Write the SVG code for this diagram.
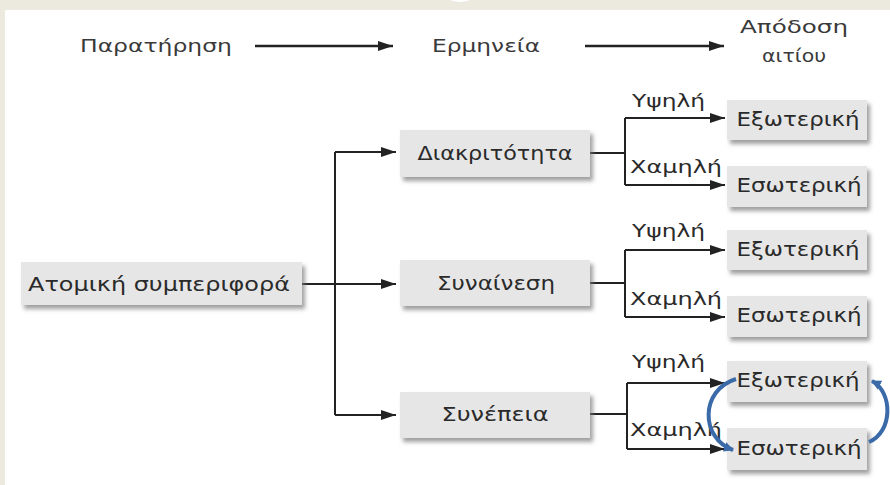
<svg xmlns="http://www.w3.org/2000/svg" width="890" height="485" viewBox="0 0 890 485">
<defs>
<marker id="ah" markerUnits="userSpaceOnUse" markerWidth="16" markerHeight="12" refX="15" refY="5" orient="auto">
<path d="M0,0 L15,5 L0,10 z" fill="#222"/>
</marker>
<marker id="bh" markerUnits="userSpaceOnUse" markerWidth="12" markerHeight="12" refX="9" refY="5" orient="auto">
<path d="M0,0 L10,5 L0,10 z" fill="#3a6ba8"/>
</marker>
<filter id="sh" x="-10%" y="-20%" width="130%" height="160%">
<feDropShadow dx="3" dy="4" stdDeviation="2" flood-color="#777" flood-opacity="0.7"/>
</filter>
</defs>
<style>
.box{fill:#e6e6e6;filter:url(#sh)}
.t{font-family:"DejaVu Sans","Liberation Sans",sans-serif;font-size:19px;fill:#2a2a2a;text-anchor:middle}
.h{font-family:"DejaVu Sans","Liberation Sans",sans-serif;font-size:18px;fill:#3a3a3a}
.l{font-family:"DejaVu Sans","Liberation Sans",sans-serif;font-size:18px;fill:#2a2a2a}
.c{stroke:#222;stroke-width:2;fill:none}
.hc{stroke:#222;stroke-width:2.6;fill:none}
.a{marker-end:url(#ah)}
.b{stroke:#3a6ba8;stroke-width:4;fill:none;marker-end:url(#bh)}
</style>
<rect x="0" y="0" width="890" height="485" fill="#fff"/>
<rect x="0" y="0" width="890" height="10" fill="#ece9de"/>
<rect x="0" y="0" width="5" height="485" fill="#ece9de"/>
<ellipse cx="460" cy="-5" rx="14" ry="7" fill="#fff"/>

<g id="header">
<text class="h" x="80" y="52" textLength="152" lengthAdjust="spacingAndGlyphs">Παρατήρηση</text>
<text class="h" x="432" y="52" textLength="108" lengthAdjust="spacingAndGlyphs">Ερμηνεία</text>
<text class="h" x="740" y="33" textLength="108" lengthAdjust="spacingAndGlyphs">Απόδοση</text>
<text class="h" x="762" y="62" textLength="64" lengthAdjust="spacingAndGlyphs">αιτίου</text>
</g>

<g id="connectors">
<path class="hc a" d="M255,46 H393"/>
<path class="hc a" d="M585,46 H724"/>
<path class="c a" d="M302,284 H396"/>
<path class="c" d="M335,152 V415"/>
<path class="c a" d="M335,152 H396"/>
<path class="c a" d="M335,415 H396"/>
<path class="c" d="M590,153 H625 M625,118 V185"/>
<path class="c a" d="M625,118 H725"/>
<path class="c a" d="M625,185 H725"/>
<path class="c" d="M590,283 H625 M625,250 V317"/>
<path class="c a" d="M625,250 H725"/>
<path class="c a" d="M625,317 H725"/>
<path class="c" d="M590,414 H627 M627,383 V449"/>
<path class="c a" d="M627,383 H725"/>
<path class="c a" d="M627,449 H725"/>
<text class="l" x="632" y="107" textLength="73" lengthAdjust="spacingAndGlyphs">Υψηλή</text>
<text class="l" x="630" y="173" textLength="92" lengthAdjust="spacingAndGlyphs">Χαμηλή</text>
<text class="l" x="632" y="237" textLength="73" lengthAdjust="spacingAndGlyphs">Υψηλή</text>
<text class="l" x="630" y="305" textLength="92" lengthAdjust="spacingAndGlyphs">Χαμηλή</text>
<text class="l" x="632" y="368" textLength="73" lengthAdjust="spacingAndGlyphs">Υψηλή</text>
<text class="l" x="630" y="436" textLength="92" lengthAdjust="spacingAndGlyphs">Χαμηλή</text>
</g>

<g id="root"><rect class="box" x="21" y="262" width="281" height="43"/><text class="t" x="159" y="291" textLength="262" lengthAdjust="spacingAndGlyphs">Ατομική συμπεριφορά</text></g>
<g id="diakritotita"><rect class="box" x="400" y="130" width="190" height="47"/><text class="t" x="495" y="160" textLength="155" lengthAdjust="spacingAndGlyphs">Διακριτότητα</text></g>
<g id="synainesi"><rect class="box" x="400" y="260" width="190" height="46"/><text class="t" x="496" y="290" textLength="118" lengthAdjust="spacingAndGlyphs">Συναίνεση</text></g>
<g id="synepeia"><rect class="box" x="400" y="392" width="190" height="46"/><text class="t" x="495" y="421" textLength="107" lengthAdjust="spacingAndGlyphs">Συνέπεια</text></g>

<g id="ext1"><rect class="box" x="727" y="100" width="140" height="40"/><text class="t" x="798" y="126" textLength="123" lengthAdjust="spacingAndGlyphs">Εξωτερική</text></g>
<g id="int1"><rect class="box" x="727" y="166" width="140" height="41"/><text class="t" x="799" y="192" textLength="125" lengthAdjust="spacingAndGlyphs">Εσωτερική</text></g>
<g id="ext2"><rect class="box" x="727" y="230" width="140" height="40"/><text class="t" x="798" y="256" textLength="123" lengthAdjust="spacingAndGlyphs">Εξωτερική</text></g>
<g id="int2"><rect class="box" x="727" y="296" width="140" height="41"/><text class="t" x="799" y="322" textLength="125" lengthAdjust="spacingAndGlyphs">Εσωτερική</text></g>
<g id="ext3"><rect class="box" x="727" y="361" width="140" height="41"/><text class="t" x="798" y="387" textLength="123" lengthAdjust="spacingAndGlyphs">Εξωτερική</text></g>
<g id="int3"><rect class="box" x="727" y="428" width="140" height="42"/><text class="t" x="799" y="455" textLength="125" lengthAdjust="spacingAndGlyphs">Εσωτερική</text></g>

<g id="cycle">
<path class="b" d="M736,379 C700,390 700,438 733,450"/>
<path class="b" d="M869,442 C893,432 893,392 872,381"/>
</g>
</svg>
